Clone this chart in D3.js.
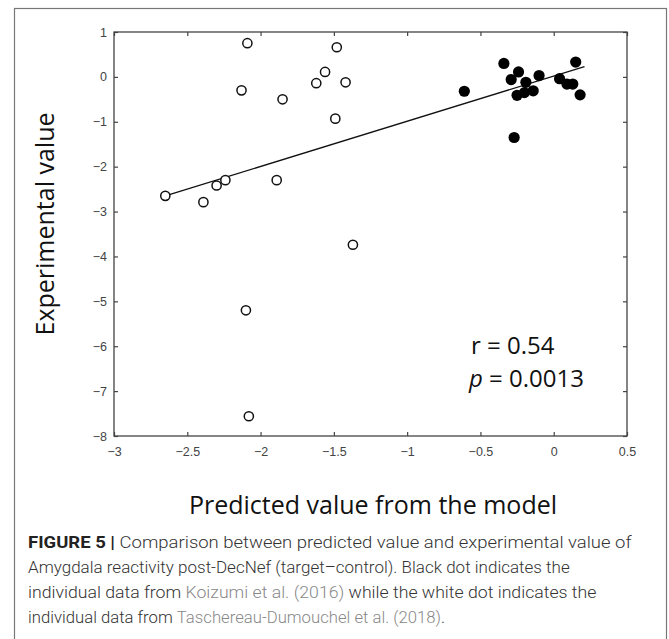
<!DOCTYPE html>
<meta charset="utf-8">
<style>
body {
  margin: 0;
  background: #fff;
}
.tick text {
  font-family: "Liberation Sans", Arial, sans-serif;
  font-size: 12.5px;
  fill: #444;
}
.tick line {
  stroke: #444;
  stroke-width: 1.2;
}
.title {
  font-family: "Open Sans", sans-serif;
  fill: #111;
}
.caption {
  font-family: Roboto, "Liberation Sans", sans-serif;
  font-size: 17px;
  font-weight: 300;
  fill: #333;
}
</style>
<body>
<script src="https://cdn.jsdelivr.net/npm/d3@7"></script>
<script>

var width = 669,
    height = 639;

// white dots: Taschereau-Dumouchel et al. (2018)
var openX = [-2.65, -2.39, -2.30, -2.24, -2.09, -2.13, -1.85, -1.89, -1.62, -1.56, -1.48, -1.42, -1.49, -1.37, -2.10, -2.08];
var openY = [-2.65, -2.79, -2.42, -2.30, 0.75, -0.30, -0.50, -2.30, -0.14, 0.11, 0.66, -0.12, -0.93, -3.74, -5.20, -7.56];

// black dots: Koizumi et al. (2016)
var fillX = [-0.61, -0.34, -0.29, -0.24, -0.25, -0.19, -0.20, -0.14, -0.10, -0.27, 0.04, 0.09, 0.13, 0.15, 0.18];
var fillY = [-0.32, 0.30, -0.06, 0.11, -0.41, -0.12, -0.35, -0.31, 0.03, -1.35, -0.04, -0.16, -0.16, 0.33, -0.40];

// fitted line end points
var fitX = [-2.65, 0.21];
var fitY = [-2.65, 0.23];

var xTicks = [-3, -2.5, -2, -1.5, -1, -0.5, 0, 0.5];
var yTicks = [-8, -7, -6, -5, -4, -3, -2, -1, 0, 1];

// caption line widths as printed
var captionWidths = [604, 542, 569, 417];

var x = d3.scaleLinear().domain([-3, 0.5]).range([114, 627]);
var y = d3.scaleLinear().domain([-8, 1]).range([436, 32]);

var fmt = function(d) { return d < 0 ? "\u2212" + Math.abs(d) : String(d); };

var svg = d3.select("body").append("svg")
    .attr("width", width)
    .attr("height", height);

// figure frame
svg.append("rect")
    .attr("x", 14.5)
    .attr("y", 8.5)
    .attr("width", 652)
    .attr("height", 640)
    .attr("fill", "none")
    .attr("stroke", "#777")
    .attr("stroke-width", 1.2);

svg.append("g")
    .attr("transform", "translate(0," + y(-8) + ")")
    .call(d3.axisBottom(x).tickValues(xTicks).tickFormat(fmt).tickSizeInner(-4).tickSizeOuter(0).tickPadding(11))
    .call(function(g) { g.select(".domain").remove(); });

svg.append("g")
    .attr("transform", "translate(0," + y(1) + ")")
    .call(d3.axisTop(x).tickValues(xTicks).tickFormat("").tickSizeInner(-4).tickSizeOuter(0))
    .call(function(g) { g.select(".domain").remove(); });

svg.append("g")
    .attr("transform", "translate(" + x(-3) + ",0)")
    .call(d3.axisLeft(y).tickValues(yTicks).tickFormat(fmt).tickSizeInner(-4).tickSizeOuter(0).tickPadding(7))
    .call(function(g) { g.select(".domain").remove(); });

svg.append("g")
    .attr("transform", "translate(" + x(0.5) + ",0)")
    .call(d3.axisRight(y).tickValues(yTicks).tickFormat("").tickSizeInner(-4).tickSizeOuter(0))
    .call(function(g) { g.select(".domain").remove(); });

svg.append("rect")
    .attr("x", x(-3))
    .attr("y", y(1))
    .attr("width", x(0.5) - x(-3))
    .attr("height", y(-8) - y(1))
    .attr("fill", "none")
    .attr("stroke", "#444")
    .attr("stroke-width", 1.3);

// regression line
svg.append("line")
    .attr("x1", x(fitX[0]))
    .attr("y1", y(fitY[0]))
    .attr("x2", x(fitX[1]))
    .attr("y2", y(fitY[1]))
    .attr("stroke", "#111")
    .attr("stroke-width", 1.3);

svg.selectAll(".open")
    .data(d3.range(openX.length))
  .enter().append("circle")
    .attr("class", "open")
    .attr("cx", function(i) { return x(openX[i]); })
    .attr("cy", function(i) { return y(openY[i]); })
    .attr("r", 4.6)
    .attr("fill", "#fff")
    .attr("stroke", "#111")
    .attr("stroke-width", 1.5);

svg.selectAll(".filled")
    .data(d3.range(fillX.length))
  .enter().append("circle")
    .attr("class", "filled")
    .attr("cx", function(i) { return x(fillX[i]); })
    .attr("cy", function(i) { return y(fillY[i]); })
    .attr("r", 5.6)
    .attr("fill", "#000");

// axis titles
svg.append("text")
    .attr("class", "title")
    .attr("transform", "translate(54,224) rotate(-90)")
    .attr("text-anchor", "middle")
    .style("font-size", "25px")
    .text("Experimental value");

svg.append("text")
    .attr("class", "title")
    .attr("x", 373)
    .attr("y", 514)
    .attr("text-anchor", "middle")
    .style("font-size", "25px")
    .text("Predicted value from the model");

// statistics
svg.append("text")
    .attr("class", "title")
    .attr("x", 471)
    .attr("y", 354)
    .style("font-size", "24px")
    .text("r = 0.54");

var pt = svg.append("text")
    .attr("class", "title")
    .attr("x", 469)
    .attr("y", 387)
    .style("font-size", "24px");
pt.append("tspan").style("font-style", "italic").text("p");
pt.append("tspan").text(" = 0.0013");

// caption
var captionLines = [
  [{t: "FIGURE 5 | ", b: true}, {t: "Comparison between predicted value and experimental value of"}],
  [{t: "Amygdala reactivity post-DecNef (target\u2013control). Black dot indicates the"}],
  [{t: "individual data from "}, {t: "Koizumi et al. (2016)", link: true}, {t: " while the white dot indicates the"}],
  [{t: "individual data from "}, {t: "Taschereau-Dumouchel et al. (2018)", link: true}, {t: "."}]
];

captionLines.forEach(function(line, i) {
  var t = svg.append("text")
      .attr("class", "caption")
      .attr("xml:space", "preserve");
  line.forEach(function(s) {
    var ts = t.append("tspan").text(s.t);
    if (s.b) ts.style("font-weight", 700).style("fill", "#222");
    if (s.link) ts.style("fill", "#888");
  });
  // stretch the line sideways to the printed width
  var k = captionWidths[i] / t.node().getComputedTextLength();
  t.attr("transform", "translate(28," + (548 + i * 24.9) + ") scale(" + k + ",1)");
});

</script>
